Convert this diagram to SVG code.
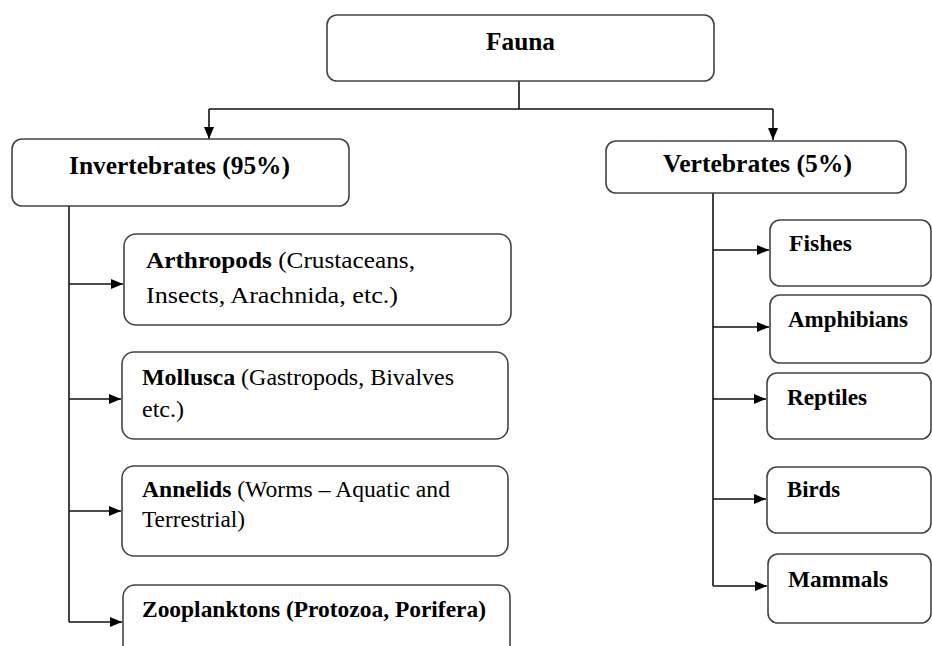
<svg xmlns="http://www.w3.org/2000/svg" width="932" height="646" viewBox="0 0 932 646">
<style>
.box{fill:#fff;stroke:#444;stroke-width:1.6}
.t{font-family:'Liberation Serif','Times New Roman','DejaVu Serif',serif;font-size:24px;fill:#000}
.h{font-size:25px}
.s{font-size:23.5px}
.b{font-weight:bold}
.c{fill:none;stroke:#111;stroke-width:1.6}
</style>
<defs>
<marker id="ah" viewBox="0 0 12 10" refX="12" refY="5" markerWidth="12" markerHeight="10" markerUnits="userSpaceOnUse" orient="auto">
<path d="M0,0 L12,5 L0,10 Z" fill="#000"/>
</marker>
</defs>
<rect width="932" height="646" fill="#fff"/>
<g id="connectors">
<path class="c" d="M519,81 V109"/>
<path class="c" d="M209,109 H773"/>
<path class="c" d="M209,109 V139" marker-end="url(#ah)"/>
<path class="c" d="M773,109 V140" marker-end="url(#ah)"/>
<path class="c" d="M69,206 V622"/>
<path class="c" d="M69,284 H123" marker-end="url(#ah)"/>
<path class="c" d="M69,399 H121" marker-end="url(#ah)"/>
<path class="c" d="M69,511 H121" marker-end="url(#ah)"/>
<path class="c" d="M69,622 H122" marker-end="url(#ah)"/>
<path class="c" d="M713,193 V586"/>
<path class="c" d="M713,250 H769" marker-end="url(#ah)"/>
<path class="c" d="M713,327 H769" marker-end="url(#ah)"/>
<path class="c" d="M713,399 H766" marker-end="url(#ah)"/>
<path class="c" d="M713,499 H766" marker-end="url(#ah)"/>
<path class="c" d="M713,586 H767" marker-end="url(#ah)"/>
</g>
<g id="fauna">
<rect class="box" x="327" y="15" width="387" height="66" rx="10"/>
<text class="t h b" x="486" y="50" textLength="69" lengthAdjust="spacingAndGlyphs">Fauna</text>
</g>
<g id="invertebrates">
<rect class="box" x="12" y="139" width="337" height="67" rx="10"/>
<text class="t h b" x="69" y="174" textLength="221" lengthAdjust="spacingAndGlyphs">Invertebrates (95%)</text>
</g>
<g id="vertebrates">
<rect class="box" x="606" y="141" width="300" height="52" rx="10"/>
<text class="t h b" x="663" y="172" textLength="189" lengthAdjust="spacingAndGlyphs">Vertebrates (5%)</text>
</g>
<g id="arthropods">
<rect class="box" x="124" y="234" width="387" height="91" rx="12"/>
<text class="t" x="146" y="268" textLength="269" lengthAdjust="spacingAndGlyphs"><tspan class="b">Arthropods</tspan> (Crustaceans,</text>
<text class="t" x="146" y="303" textLength="252" lengthAdjust="spacingAndGlyphs">Insects, Arachnida, etc.)</text>
</g>
<g id="mollusca">
<rect class="box" x="122" y="352" width="386" height="87" rx="12"/>
<text class="t" x="142" y="385" textLength="312" lengthAdjust="spacingAndGlyphs"><tspan class="b">Mollusca</tspan> (Gastropods, Bivalves</text>
<text class="t" x="142" y="417" textLength="42" lengthAdjust="spacingAndGlyphs">etc.)</text>
</g>
<g id="annelids">
<rect class="box" x="122" y="466" width="386" height="90" rx="12"/>
<text class="t" x="142" y="497" textLength="308" lengthAdjust="spacingAndGlyphs"><tspan class="b">Annelids</tspan> (Worms – Aquatic and</text>
<text class="t" x="142" y="527" textLength="103" lengthAdjust="spacingAndGlyphs">Terrestrial)</text>
</g>
<g id="zooplanktons">
<rect class="box" x="123" y="585" width="387" height="80" rx="12"/>
<text class="t b" x="142" y="617" textLength="344" lengthAdjust="spacingAndGlyphs">Zooplanktons (Protozoa, Porifera)</text>
</g>
<g id="fishes">
<rect class="box" x="770" y="220" width="161" height="66" rx="10"/>
<text class="t s b" x="789" y="251" textLength="63" lengthAdjust="spacingAndGlyphs">Fishes</text>
</g>
<g id="amphibians">
<rect class="box" x="770" y="295" width="161" height="68" rx="10"/>
<text class="t s b" x="788" y="327" textLength="120" lengthAdjust="spacingAndGlyphs">Amphibians</text>
</g>
<g id="reptiles">
<rect class="box" x="767" y="373" width="164" height="66" rx="10"/>
<text class="t s b" x="787" y="405" textLength="80" lengthAdjust="spacingAndGlyphs">Reptiles</text>
</g>
<g id="birds">
<rect class="box" x="767" y="467" width="164" height="66" rx="10"/>
<text class="t s b" x="787" y="497" textLength="53" lengthAdjust="spacingAndGlyphs">Birds</text>
</g>
<g id="mammals">
<rect class="box" x="768" y="554" width="163" height="69" rx="10"/>
<text class="t s b" x="788" y="587" textLength="100" lengthAdjust="spacingAndGlyphs">Mammals</text>
</g>
</svg>
